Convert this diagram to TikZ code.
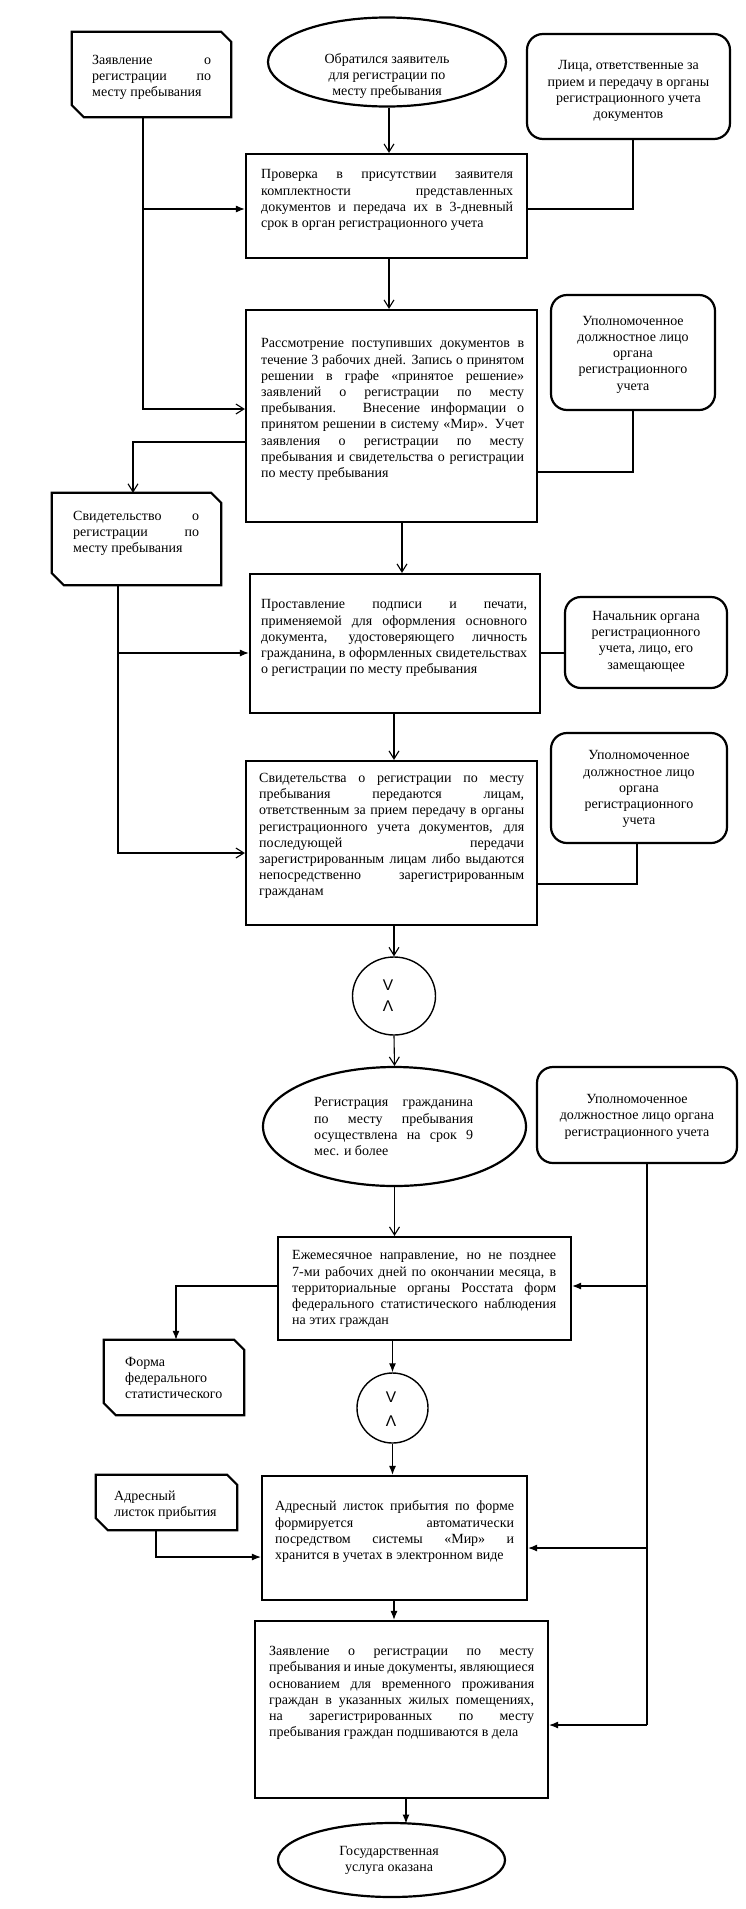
\documentclass[tikz,border=0pt]{standalone}
\usepackage{fontspec}
\setmainfont{Liberation Serif}
\newfontfamily\symf{Liberation Sans}
\usetikzlibrary{arrows.meta,shapes.geometric}
\newcommand\jl[2]{\makebox[#1pt][s]{#2}}
\newcommand\fs{\fontsize{14}{16.2}\selectfont}
\newcommand\docoutline[1]{\draw[docline] (#1.north west) -- ([xshift=-10pt]#1.north east) -- ([yshift=-10pt]#1.north east) -- (#1.south east) -- ([xshift=12pt]#1.south west) -- ([yshift=12pt]#1.south west) -- cycle;}
\begin{document}
\begin{tikzpicture}[x=1pt,y=-1pt,
  procbox/.style={draw, rectangle, line width=2.2pt, inner sep=0pt},
  rbox/.style={draw, rectangle, rounded corners=16pt, line width=2.2pt, inner sep=0pt},
  docbox/.style={rectangle, inner sep=0pt},
  docline/.style={line width=2.2pt, line join=miter},
  ell/.style={draw, ellipse, line width=2.2pt, inner sep=0pt},
  circ/.style={draw, ellipse, line width=1.4pt, inner sep=0pt},
  txt/.style={font=\fs, align=left, inner sep=0pt},
  ctxt/.style={font=\fs, align=center, inner sep=0pt},
  symt/.style={font=\symf\fontsize{15.5}{17}\selectfont, inner sep=0pt},
  conn/.style={line width=1.1pt},
  oarr/.style={conn, -{Straight Barb[length=8pt,width=10pt]}},
  farr/.style={conn, -{Latex[length=9pt,width=7pt]}}]
\useasboundingbox (0,0) rectangle (745,1909);

% ---- top row
\node[ell, minimum width=238pt, minimum height=89pt] (e1) at (387,62) {};
\node[ctxt] (e1t) at (387,76) {\strut Обратился заявитель\\для регистрации по\\месту пребывания\strut};

\node[docbox, minimum width=159pt, minimum height=85pt] (dA) at (151.5,74.5) {};
\docoutline{dA}
\node[txt, anchor=west] (dAt) at (92,77.5) {\strut\jl{119}{Заявление о}\\\jl{119}{регистрации по}\\месту пребывания\strut};

\node[rbox, minimum width=203pt, minimum height=105pt] (rA) at (628.5,86.5) {};
\node[ctxt] (rAt) at (628.5,91) {\strut Лица, ответственные за\\прием и передачу в органы\\регистрационного учета\\документов\strut};

% ---- Проверка
\node[procbox, minimum width=281pt, minimum height=104pt] (prov) at (386.5,206) {};
\node[txt, anchor=west] (provt) at (261,200) {\strut\jl{252}{Проверка в присутствии заявителя}\\\jl{252}{комплектности представленных}\\\jl{252}{документов и передача их в 3-дневный}\\срок в орган регистрационного учета\strut};

% ---- Рассмотрение
\node[procbox, minimum width=291pt, minimum height=212pt] (rass) at (391.5,416) {};
\node[txt, anchor=west] (rasst) at (261,409.5) {\strut\jl{263}{Рассмотрение поступивших документов в}\\\jl{263}{течение 3 рабочих дней. Запись о принятом}\\\jl{263}{решении в графе «принятое решение»}\\\jl{263}{заявлений о регистрации по месту}\\\jl{263}{пребывания. Внесение информации о}\\\jl{263}{принятом решении в систему «Мир». Учет}\\\jl{263}{заявления о регистрации по месту}\\\jl{263}{пребывания и свидетельства о регистрации}\\по месту пребывания\strut};

\node[rbox, minimum width=164pt, minimum height=115pt] (rB) at (633,352.5) {};
\node[ctxt] (rBt) at (633,354.4) {\strut Уполномоченное\\должностное лицо\\органа\\регистрационного\\учета\strut};

% ---- Свидетельство (doc)
\node[docbox, minimum width=169pt, minimum height=92pt] (dB) at (136.5,539) {};
\docoutline{dB}
\node[txt, anchor=west] (dBt) at (73,533) {\strut\jl{126}{Свидетельство о}\\\jl{126}{регистрации по}\\месту пребывания\strut};

% ---- Проставление
\node[procbox, minimum width=290pt, minimum height=139pt] (prost) at (395,643.5) {};
\node[txt, anchor=west] (prostt) at (261,638) {\strut\jl{266}{Проставление подписи и печати,}\\\jl{266}{применяемой для оформления основного}\\\jl{266}{документа, удостоверяющего личность}\\\jl{266}{гражданина, в оформленных свидетельствах}\\о регистрации по месту пребывания\strut};

\node[rbox, minimum width=162pt, minimum height=91pt] (rC) at (646,642.5) {};
\node[ctxt] (rCt) at (646,641.5) {\strut Начальник органа\\регистрационного\\учета, лицо, его\\замещающее\strut};

% ---- Свидетельства
\node[procbox, minimum width=291pt, minimum height=164pt] (svid) at (391.5,843) {};
\node[txt, anchor=west] (svidt) at (259,836) {\strut\jl{265}{Свидетельства о регистрации по месту}\\\jl{265}{пребывания передаются лицам,}\\\jl{265}{ответственным за прием передачу в органы}\\\jl{265}{регистрационного учета документов, для}\\\jl{265}{последующей передачи}\\\jl{265}{зарегистрированным лицам либо выдаются}\\\jl{265}{непосредственно зарегистрированным}\\гражданам\strut};

\node[rbox, minimum width=176pt, minimum height=110pt] (rD) at (639,788) {};
\node[ctxt] (rDt) at (639,789) {\strut Уполномоченное\\должностное лицо\\органа\\регистрационного\\учета\strut};

% ---- circle 1
\node[circ, minimum width=83pt, minimum height=78pt] (c1) at (394,996) {};
\node[symt] (c1a) at (388,985) {V};
\node[symt] (c1b) at (388,1006) {Λ};

% ---- Регистрация
\node[ell, minimum width=263pt, minimum height=119pt] (e2) at (394.5,1126.5) {};
\node[txt, anchor=west] (e2t) at (314,1128) {\strut\jl{159}{Регистрация гражданина}\\\jl{159}{по месту пребывания}\\\jl{159}{осуществлена на срок 9}\\мес. и более\strut};

\node[rbox, minimum width=200pt, minimum height=96pt] (rE) at (637,1115) {};
\node[ctxt] (rEt) at (637,1116.7) {\strut Уполномоченное\\должностное лицо органа\\регистрационного учета\strut};

% ---- Ежемесячное
\node[procbox, minimum width=293pt, minimum height=103pt] (ejem) at (424.5,1288.5) {};
\node[txt, anchor=west] (ejemt) at (292,1289) {\strut\jl{264}{Ежемесячное направление, но не позднее}\\\jl{264}{7-ми рабочих дней по окончании месяца, в}\\\jl{264}{территориальные органы Росстата форм}\\\jl{264}{федерального статистического наблюдения}\\на этих граждан\strut};

\node[docbox, minimum width=140pt, minimum height=75pt] (dC) at (174,1377.5) {};
\docoutline{dC}
\node[txt, anchor=west] (dCt) at (125,1379) {\strut Форма\\федерального\\статистического\strut};

% ---- circle 2
\node[circ, minimum width=71pt, minimum height=70pt] (c2) at (392.5,1408) {};
\node[symt] (c2a) at (391,1397) {V};
\node[symt] (c2b) at (391,1421) {Λ};

% ---- Адресный
\node[docbox, minimum width=141pt, minimum height=55pt] (dD) at (166.5,1502.5) {};
\docoutline{dD}
\node[txt, anchor=west] (dDt) at (114,1505) {\strut Адресный\\листок прибытия\strut};

\node[procbox, minimum width=265pt, minimum height=124pt] (adr) at (394.5,1538) {};
\node[txt, anchor=west] (adrt) at (275,1532) {\strut\jl{239}{Адресный листок прибытия по форме}\\\jl{239}{формируется автоматически}\\\jl{239}{посредством системы «Мир» и}\\хранится в учетах в электронном виде\strut};

% ---- Заявление
\node[procbox, minimum width=293pt, minimum height=177pt] (zay) at (401.5,1709.5) {};
\node[txt, anchor=west] (zayt) at (269,1693) {\strut\jl{265}{Заявление о регистрации по месту}\\\jl{265}{пребывания и иные документы, являющиеся}\\\jl{265}{основанием для временного проживания}\\\jl{265}{граждан в указанных жилых помещениях,}\\\jl{265}{на зарегистрированных по месту}\\пребывания граждан подшиваются в дела\strut};

\node[ell, minimum width=227pt, minimum height=74pt] (e3) at (391.5,1860) {};
\node[ctxt] (e3t) at (389,1860) {\strut Государственная\\услуга оказана\strut};

% ---- connectors
\coordinate (x389) at (389,0);
\coordinate (x394) at (394,0);
\coordinate (x402) at (402,0);
\coordinate (x406) at (406,0);

\draw[oarr] (e1.south -| x389) -- (prov.north -| x389);
\coordinate (pA1) at (143,209);
\coordinate (pA2) at (143,409);
\draw[farr] (dA.south -| pA1) -- (pA1) -- (pA1 -| prov.west);
\draw[oarr] (pA1) -- (pA2) -- (pA2 -| rass.west);
\coordinate (pB1) at (633,209);
\draw[conn] (rA.south -| pB1) -- (pB1) -- (pB1 -| prov.east);

\draw[oarr] (prov.south -| x389) -- (rass.north -| x389);
\coordinate (pC1) at (633,472);
\draw[conn] (rB.south -| pC1) -- (pC1) -- (pC1 -| rass.east);
\coordinate (pD1) at (133,442);
\draw[oarr] (pD1 -| rass.west) -- (pD1) -- (pD1 |- dB.north);

\draw[oarr] (rass.south -| x402) -- (prost.north -| x402);
\coordinate (pE1) at (118,653);
\coordinate (pE2) at (118,853);
\draw[farr] (dB.south -| pE1) -- (pE1) -- (pE1 -| prost.west);
\draw[oarr] (pE1) -- (pE2) -- (pE2 -| svid.west);
\coordinate (pF1) at (600,653);
\draw[conn] (rC.west |- pF1) -- (prost.east |- pF1);

\draw[oarr] (prost.south -| x394) -- (svid.north -| x394);
\coordinate (pG1) at (637,884);
\draw[conn] (rD.south -| pG1) -- (pG1) -- (pG1 -| svid.east);

\draw[oarr] (svid.south -| x394) -- (c1.north);
\draw[oarr] (c1.south) -- (e2.north);
\draw[oarr] (e2.south) -- (e2.south |- ejem.north);

\coordinate (pH1) at (647,1286);
\coordinate (pH2) at (647,1548);
\coordinate (pH3) at (647,1725);
\draw[conn] (rE.south -| pH1) -- (pH3);
\draw[farr] (pH1) -- (pH1 -| ejem.east);
\draw[farr] (pH2) -- (pH2 -| adr.east);
\draw[farr] (pH3) -- (pH3 -| zay.east);

\coordinate (pI1) at (176,1286);
\draw[farr] (pI1 -| ejem.west) -- (pI1) -- (pI1 |- dC.north);
\draw[farr] (ejem.south -| c2.north) -- (c2.north);
\draw[farr] (c2.south) -- (c2.south |- adr.north);
\coordinate (pJ1) at (156,1557);
\draw[farr] (dD.south -| pJ1) -- (pJ1) -- (pJ1 -| adr.west);
\draw[farr] (adr.south -| x394) -- (zay.north -| x394);
\coordinate (pK) at (406,1823.5);
\draw[farr] (zay.south -| x406) -- (pK);
\end{tikzpicture}
\end{document}
